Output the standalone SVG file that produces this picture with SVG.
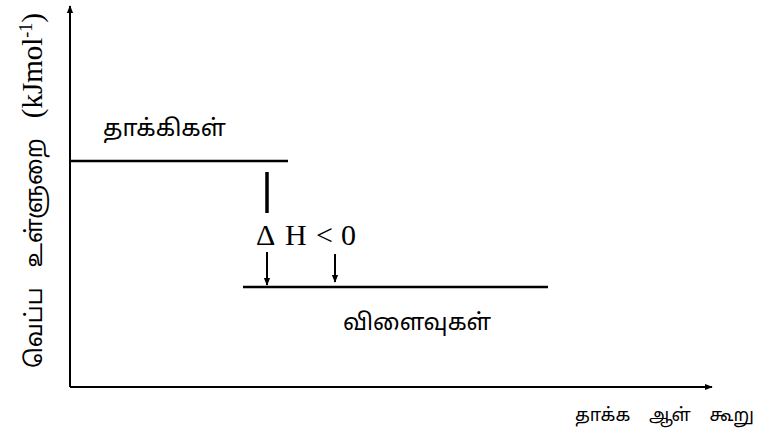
<svg xmlns="http://www.w3.org/2000/svg" width="759" height="436" viewBox="0 0 759 436">
<style>
.ax{stroke:#000;stroke-width:2;fill:none}
.lvl{stroke:#000;stroke-width:2.5;fill:none}
.t{font-family:"Liberation Serif","Times New Roman",serif;fill:#000}
.ta{font-family:"Noto Sans Tamil","Noto Serif Tamil","Liberation Serif",serif;fill:#000}
</style>
<defs>
<marker id="ah" viewBox="0 0 10 10" refX="9" refY="5" markerWidth="8" markerHeight="8" markerUnits="userSpaceOnUse" orient="auto">
<path d="M0,1 L10,5 L0,9 Z" fill="#000"/>
</marker>
</defs>
<rect width="759" height="436" fill="#fff"/>
<g id="connectors">
<line class="ax" x1="70" y1="387" x2="70" y2="6" marker-end="url(#ah)"/>
<line class="ax" x1="70" y1="387" x2="712" y2="387" marker-end="url(#ah)"/>
<line x1="267" y1="172" x2="267" y2="213" stroke="#000" stroke-width="3.5"/>
<line class="ax" x1="267" y1="252" x2="267" y2="285" stroke-width="1.6" marker-end="url(#ah)"/>
<line class="ax" x1="335" y1="254" x2="335" y2="282" stroke-width="1.6" marker-end="url(#ah)"/>
</g>
<g id="reactants">
<line class="lvl" x1="70" y1="161" x2="288" y2="161"/>
<text class="ta" x="103" y="136" font-size="23.5">தாக்கிகள்</text>
</g>
<g id="products">
<line class="lvl" x1="243" y1="287" x2="548" y2="287"/>
<text class="ta" x="343" y="330" font-size="23">விளைவுகள்</text>
</g>
<g id="deltaH">
<text class="t" y="245" font-size="30"><tspan x="256">Δ</tspan><tspan x="285">H</tspan><tspan x="316">&lt;</tspan><tspan x="341">0</tspan></text>
</g>
<g id="xlabel">
<text class="ta" x="575" y="421" font-size="18" word-spacing="14">தாக்க ஆள் கூறு</text>
</g>
<g id="ylabel">
<text transform="translate(42,368) rotate(-90)"><tspan class="ta" font-size="23" word-spacing="14">வெப்ப உள்ளுறை </tspan><tspan class="t" font-size="29">(kJmol</tspan><tspan class="t" dy="-10" font-size="18">-1</tspan><tspan class="t" dy="10" font-size="29">)</tspan></text>
</g>
</svg>
